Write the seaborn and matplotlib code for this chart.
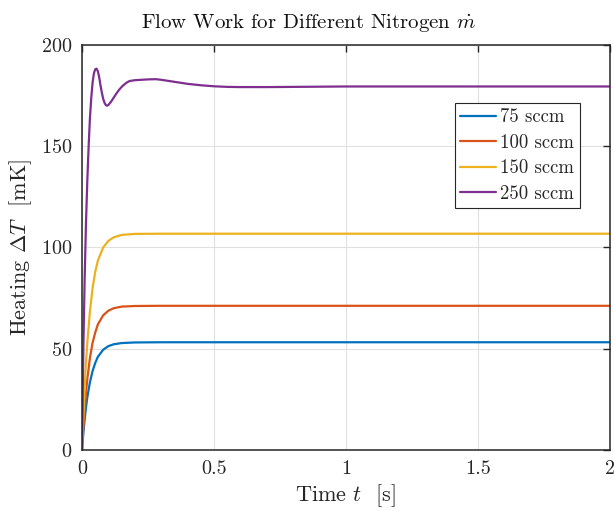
import pandas as pd
import seaborn as sns
import matplotlib.pyplot as plt

# time samples (s) for the first-order style responses
t_fast = [0, 0.005, 0.01, 0.015, 0.02, 0.03, 0.04, 0.05, 0.06, 0.08,
          0.1, 0.12, 0.15, 0.2, 0.3, 0.5, 1.0, 1.5, 2.0]
dT_75 = [0, 8.5, 15, 21, 26, 33.5, 39, 43, 46, 49.5,
         51.3, 52.2, 52.8, 53.1, 53.2, 53.2, 53.2, 53.2, 53.2]
dT_100 = [0, 11, 20, 28, 35, 45.5, 53, 58, 62, 66.5,
          68.8, 70, 70.8, 71.1, 71.2, 71.2, 71.2, 71.2, 71.2]
dT_150 = [0, 17, 31, 43, 53, 68.5, 80, 88, 93.5, 100,
          103.3, 105, 106.2, 106.7, 106.8, 106.8, 106.8, 106.8, 106.8]

# 250 sccm has an overshoot, so it needs its own finer samples
t_250 = [0, 0.005, 0.01, 0.015, 0.02, 0.025, 0.03, 0.035, 0.04, 0.045,
         0.05, 0.055, 0.06, 0.065, 0.07, 0.075, 0.08, 0.085, 0.09, 0.095,
         0.1, 0.11, 0.12, 0.13, 0.14, 0.15, 0.16, 0.17, 0.18, 0.2,
         0.25, 0.28, 0.3, 0.35, 0.4, 0.45, 0.5, 0.55, 0.6, 0.7,
         0.8, 1.0, 1.5, 2.0]
dT_250 = [0, 50, 85, 112, 133, 150, 164, 174, 181.5, 186,
          188, 188.3, 187, 184, 180, 176.5, 173.5, 171.5, 170.3, 170,
          170.4, 172, 174, 176, 177.8, 179.3, 180.5, 181.5, 182.2, 182.6,
          183, 183.1, 182.8, 181.8, 180.8, 180.1, 179.6, 179.3, 179.2, 179.2,
          179.3, 179.5, 179.5, 179.5]

labels = ["75 sccm", "100 sccm", "150 sccm", "250 sccm"]
colors = ["#0072BD", "#D95319", "#EDB120", "#7E2F8E"]

xticks = [0, 0.5, 1, 1.5, 2]
xtick_labels = ["0", "0.5", "1", "1.5", "2"]
yticks = [0, 50, 100, 150, 200]

# long format frame for seaborn
frames = []
for t, y, lab in zip([t_fast, t_fast, t_fast, t_250],
                     [dT_75, dT_100, dT_150, dT_250], labels):
    frames.append(pd.DataFrame({"t": t, "dT": y, "flow": lab}))
df = pd.concat(frames, ignore_index=True)

sns.set_style("white")
plt.rcParams["font.family"] = ["cmr10", "DejaVu Serif"]
plt.rcParams["mathtext.fontset"] = "cm"
plt.rcParams["axes.formatter.use_mathtext"] = True

fig = plt.figure(figsize=(6.14, 5.11), dpi=100)
ax = fig.add_axes([0.1336, 0.1194, 0.86, 0.7926])

sns.lineplot(data=df, x="t", y="dT", hue="flow", hue_order=labels,
             palette=colors, linewidth=1.6, ax=ax, estimator=None, sort=False)

ax.set_xlim(0, 2)
ax.set_ylim(0, 200)
ax.set_xticks(xticks)
ax.set_xticklabels(xtick_labels)
ax.set_yticks(yticks)
ax.grid(True, color="#e0e0e0", linewidth=0.8)
ax.set_axisbelow(True)
ax.tick_params(direction="in", length=5, width=1, top=True, right=True,
               labelsize=14.5, colors="#262626", pad=7)
for s in ax.spines.values():
    s.set_visible(True)
    s.set_color("#262626")
    s.set_linewidth(1.1)

# title is centred on the figure, not the axes
fig.text(0.503, 0.955, r"Flow Work for Different Nitrogen $\dot{m}$",
         fontsize=15, ha="center", va="center", color="#111111")
ax.set_xlabel(r"Time $t$  [s]", fontsize=16, labelpad=3)
ax.set_ylabel(r"Heating $\Delta T$  [mK]", fontsize=16, labelpad=5)

leg = ax.legend(loc="upper right", bbox_to_anchor=(0.943, 0.857), fontsize=13.5,
                frameon=True, fancybox=False, framealpha=1, borderpad=0.3,
                handlelength=1.9, handletextpad=0.25, labelspacing=0.4,
                borderaxespad=0)
leg.get_frame().set_edgecolor("#262626")
leg.get_frame().set_linewidth(0.8)

fig.savefig("out.png", dpi=100)
